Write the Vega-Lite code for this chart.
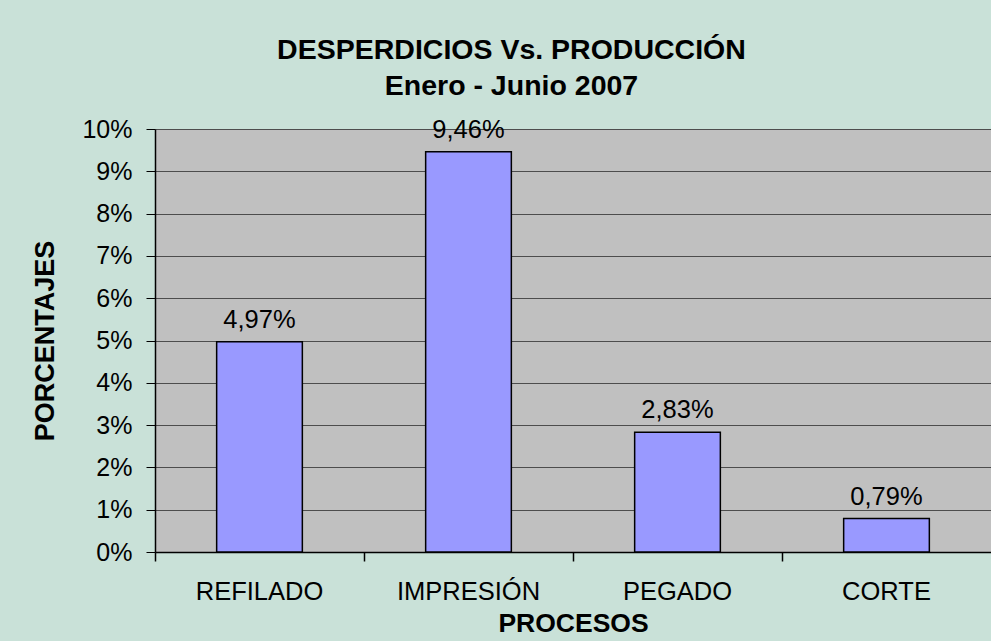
{
  "$schema": "https://vega.github.io/schema/vega-lite/v6.json",
  "width": 836,
  "height": 423,
  "autosize": {"type": "none"},
  "padding": {"left": 155, "top": 129, "right": 0, "bottom": 89},
  "background": "#c9e1d8",
  "config": {
    "locale": {"number": {"decimal": ",", "thousands": ".", "grouping": [3], "currency": ["", " €"]}},
    "font": "Liberation Sans",
    "view": {"fill": "#c0c0c0", "stroke": null}
  },
  "title": {
    "text": ["DESPERDICIOS Vs. PRODUCCIÓN", "Enero - Junio 2007"],
    "fontSize": 28.5,
    "font": "Liberation Sans",
    "fontWeight": "bold",
    "color": "black",
    "anchor": "middle",
    "frame": "bounds",
    "lineHeight": 36,
    "offset": 17
  },
  "data": {
    "values": [
      {"proceso": "REFILADO", "pct": 0.0497},
      {"proceso": "IMPRESIÓN", "pct": 0.0946},
      {"proceso": "PEGADO", "pct": 0.0283},
      {"proceso": "CORTE", "pct": 0.0079}
    ]
  },
  "layer": [
    {
      "mark": {"type": "bar", "fill": "#9999ff", "stroke": "black", "strokeWidth": 1.5, "width": {"band": 0.41}},
      "encoding": {
        "x": {
          "field": "proceso", "type": "nominal", "sort": null,
          "scale": {"paddingInner": 0, "paddingOuter": 0},
          "axis": {
            "orient": "bottom",
            "labelAngle": 0,
            "labelFontSize": 25.5,
            "labelColor": "black",
            "labelBaseline": "alphabetic",
            "ticks": false,
            "tickSize": 0,
            "labelPadding": 47,
            "domain": true,
            "domainColor": "black",
            "domainWidth": 1.5,
            "title": "PROCESOS",
            "titleFontSize": 26.5,
            "titleFontWeight": "bold",
            "titleColor": "black",
            "titlePadding": 6
          }
        },
        "y": {
          "field": "pct", "type": "quantitative",
          "scale": {"domain": [0, 0.1], "nice": false},
          "axis": {
            "format": ".0%",
            "values": [0, 0.01, 0.02, 0.03, 0.04, 0.05, 0.06, 0.07, 0.08, 0.09, 0.1],
            "grid": true,
            "gridColor": "#4d4d4d",
            "gridOpacity": 1,
            "gridWidth": 1,
            "domainColor": "black",
            "domainWidth": 1.5,
            "tickColor": "black",
            "tickSize": 9,
            "labelFontSize": 25,
            "labelColor": "black",
            "labelPadding": 14,
            "title": "PORCENTAJES",
            "titleFontSize": 27,
            "titleFontWeight": "bold",
            "titleColor": "black",
            "titlePadding": 22
          }
        }
      }
    },
    {
      "mark": {"type": "text", "dy": -14, "fontSize": 25.5, "baseline": "alphabetic", "color": "black"},
      "encoding": {
        "x": {
          "field": "proceso", "type": "nominal", "sort": null,
          "axis": {
            "orient": "bottom",
            "labels": false,
            "title": null,
            "domain": false,
            "ticks": true,
            "tickSize": 9,
            "tickColor": "black",
            "tickWidth": 1.5,
            "bandPosition": 0,
            "grid": false
          }
        },
        "y": {"field": "pct", "type": "quantitative"},
        "text": {"field": "pct", "type": "quantitative", "format": ".2%"}
      }
    }
  ],
  "resolve": {"axis": {"x": "independent"}}
}
